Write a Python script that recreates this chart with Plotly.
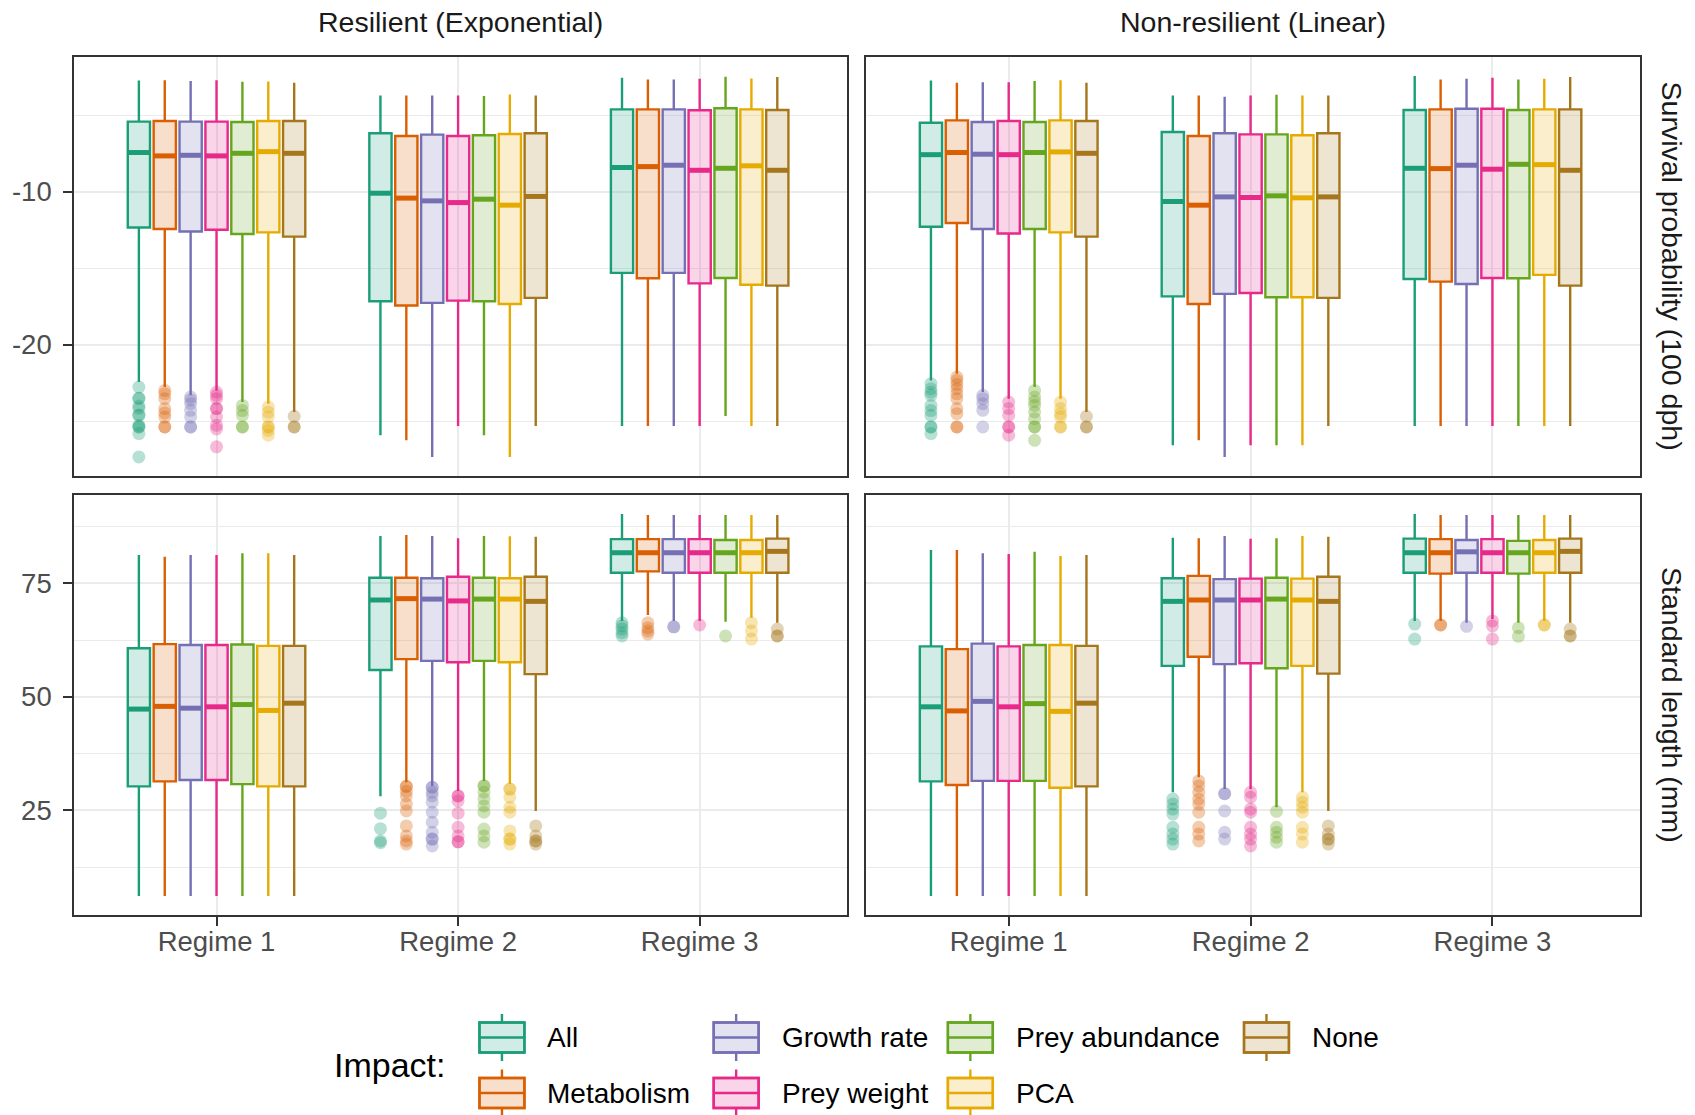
import plotly.graph_objects as go

# ---------------------------------------------------------------- data
REGIMES = ["Regime 1", "Regime 2", "Regime 3"]
IMPACTS = ["All", "Metabolism", "Growth rate", "Prey weight",
           "Prey abundance", "PCA", "None"]
COLORS = ["#1B9E77", "#D95F02", "#7570B3", "#E7298A",
          "#66A61E", "#E6AB02", "#A6761D"]
MODELS = ["Resilient (Exponential)", "Non-resilient (Linear)"]
METRICS = ["Survival probability (100 dph)", "Standard length (mm)"]

# Box summaries per impact, one entry per regime:
# [lower whisker, Q1, median, Q3, upper whisker]
SURV_EXP = {
    "All":            [[-22.43, -12.33, -7.43, -5.41, -2.72], [-25.91, -17.15, -10.09, -6.17, -3.70], [-25.30, -15.30, -8.41, -4.61, -2.54]],
    "Metabolism":     [[-22.76, -12.43, -7.65, -5.37, -2.70], [-26.24, -17.43, -10.41, -6.35, -3.70], [-25.30, -15.65, -8.35, -4.61, -2.65]],
    "Growth rate":    [[-23.30, -12.59, -7.61, -5.41, -2.76], [-27.33, -17.26, -10.59, -6.26, -3.70], [-25.30, -15.30, -8.26, -4.61, -2.65]],
    "Prey weight":    [[-22.98, -12.48, -7.65, -5.41, -2.70], [-25.30, -17.11, -10.70, -6.35, -3.70], [-25.30, -15.98, -8.59, -4.67, -2.61]],
    "Prey abundance": [[-23.74, -12.76, -7.48, -5.43, -2.80], [-25.91, -17.15, -10.48, -6.30, -3.74], [-24.65, -15.63, -8.46, -4.54, -2.48]],
    "PCA":            [[-23.85, -12.65, -7.37, -5.37, -2.78], [-27.33, -17.33, -10.87, -6.22, -3.63], [-25.30, -16.07, -8.30, -4.61, -2.59]],
    "None":           [[-24.39, -12.93, -7.48, -5.37, -2.87], [-25.30, -16.93, -10.30, -6.17, -3.70], [-25.30, -16.13, -8.59, -4.65, -2.50]],
}
SURV_LIN = {
    "All":            [[-22.33, -12.28, -7.57, -5.48, -2.72], [-26.57, -16.83, -10.63, -6.09, -3.70], [-25.30, -15.70, -8.46, -4.65, -2.43]],
    "Metabolism":     [[-21.89, -12.04, -7.43, -5.33, -2.87], [-26.24, -17.33, -10.87, -6.35, -3.70], [-25.30, -15.87, -8.48, -4.61, -2.65]],
    "Growth rate":    [[-23.09, -12.43, -7.54, -5.43, -2.83], [-27.33, -16.67, -10.33, -6.17, -3.78], [-25.30, -16.02, -8.26, -4.57, -2.61]],
    "Prey weight":    [[-23.52, -12.72, -7.57, -5.37, -2.83], [-26.57, -16.61, -10.37, -6.24, -3.70], [-25.30, -15.63, -8.52, -4.57, -2.54]],
    "Prey abundance": [[-22.76, -12.43, -7.43, -5.43, -2.76], [-26.57, -16.89, -10.26, -6.24, -3.65], [-25.30, -15.65, -8.20, -4.65, -2.65]],
    "PCA":            [[-23.52, -12.65, -7.39, -5.33, -2.70], [-26.57, -16.89, -10.39, -6.30, -3.70], [-25.30, -15.43, -8.22, -4.61, -2.61]],
    "None":           [[-24.39, -12.93, -7.48, -5.37, -2.87], [-25.30, -16.93, -10.33, -6.17, -3.70], [-25.30, -16.13, -8.59, -4.61, -2.50]],
}
LEN_EXP = {
    "All":            [[6.2, 30.3, 47.3, 60.7, 81.2], [28.1, 55.9, 71.3, 76.2, 85.4], [66.7, 77.3, 81.7, 84.7, 90.2]],
    "Metabolism":     [[6.2, 31.4, 47.9, 61.6, 80.8], [31.2, 58.3, 71.6, 76.2, 85.6], [68.0, 77.6, 81.7, 84.7, 90.0]],
    "Growth rate":    [[6.2, 31.7, 47.5, 61.4, 81.2], [30.4, 57.9, 71.5, 76.1, 85.4], [66.7, 77.3, 81.7, 84.7, 90.0]],
    "Prey weight":    [[6.2, 31.7, 47.8, 61.4, 81.2], [29.3, 57.6, 71.1, 76.4, 84.9], [66.7, 77.3, 81.7, 84.7, 90.0]],
    "Prey abundance": [[6.2, 30.8, 48.3, 61.5, 81.6], [31.5, 57.9, 71.5, 76.2, 85.4], [66.5, 77.3, 81.7, 84.5, 90.0]],
    "PCA":            [[6.2, 30.3, 47.0, 61.2, 81.6], [30.8, 57.6, 71.5, 76.1, 85.3], [67.4, 77.3, 81.7, 84.5, 90.0]],
    "None":           [[6.2, 30.3, 48.6, 61.2, 81.2], [24.9, 55.0, 71.0, 76.4, 85.2], [66.3, 77.3, 82.0, 84.8, 90.0]],
}
LEN_LIN = {
    "All":            [[6.2, 31.4, 47.8, 61.1, 82.3], [29.0, 56.8, 71.0, 76.1, 85.0], [66.7, 77.3, 81.7, 84.8, 90.2]],
    "Metabolism":     [[6.2, 30.6, 46.9, 60.5, 82.3], [32.3, 58.8, 71.3, 76.6, 84.9], [66.7, 77.1, 81.7, 84.7, 90.0]],
    "Growth rate":    [[6.2, 31.5, 49.0, 61.7, 81.6], [29.7, 57.2, 71.3, 75.9, 85.4], [66.3, 77.3, 81.9, 84.5, 90.0]],
    "Prey weight":    [[6.2, 31.5, 47.8, 61.1, 81.4], [29.7, 57.4, 71.3, 76.0, 84.8], [67.1, 77.3, 81.7, 84.7, 90.0]],
    "Prey abundance": [[6.2, 31.5, 48.5, 61.4, 81.9], [25.7, 56.3, 71.5, 76.2, 84.9], [66.3, 77.1, 81.7, 84.3, 90.0]],
    "PCA":            [[6.2, 30.0, 46.8, 61.4, 81.0], [29.0, 56.8, 71.3, 76.0, 85.4], [66.7, 77.3, 81.7, 84.5, 90.0]],
    "None":           [[6.2, 30.3, 48.6, 61.2, 81.2], [24.9, 55.1, 71.0, 76.4, 85.2], [66.3, 77.3, 82.0, 84.8, 90.0]],
}

# Outlying runs per impact, one list per regime
SURV_EXP_OUT = {
    "All":            [[-22.76, -23.5, -23.5, -24.0, -24.15, -24.6, -24.6, -25.26, -25.37, -25.37, -25.8, -27.33], [], []],
    "Metabolism":     [[-22.98, -23.2, -23.52, -24.17, -24.45, -24.72, -25.37, -25.37], [], []],
    "Growth rate":    [[-23.41, -23.6, -23.85, -24.28, -24.72, -25.37, -25.37], [], []],
    "Prey weight":    [[-23.09, -23.3, -23.52, -24.17, -24.17, -24.72, -25.26, -25.5, -26.67], [], []],
    "Prey abundance": [[-23.96, -24.3, -24.61, -25.37, -25.37], [], []],
    "PCA":            [[-24.07, -24.4, -24.72, -25.37, -25.37, -25.6, -25.91], [], []],
    "None":           [[-24.67, -25.37, -25.37], [], []],
}
SURV_LIN_OUT = {
    "All":            [[-22.54, -22.87, -23.1, -23.30, -23.96, -24.3, -24.61, -25.37, -25.37, -25.80], [], []],
    "Metabolism":     [[-22.11, -22.33, -22.6, -22.87, -23.2, -23.52, -24.17, -24.5, -25.37, -25.37], [], []],
    "Growth rate":    [[-23.30, -23.52, -23.85, -24.28, -25.37], [], []],
    "Prey weight":    [[-23.74, -24.17, -24.61, -25.37, -25.37, -25.91], [], []],
    "Prey abundance": [[-22.98, -23.41, -23.7, -23.96, -24.39, -24.83, -25.37, -25.37, -26.24], [], []],
    "PCA":            [[-23.74, -24.17, -24.5, -24.72, -25.37, -25.37], [], []],
    "None":           [[-24.67, -25.37, -25.37], [], []],
}
LEN_EXP_OUT = {
    "All":            [[], [24.4, 21.0, 18.3, 17.9], [66.3, 65.6, 64.9, 64.1, 63.4]],
    "Metabolism":     [[], [30.3, 30.3, 29.2, 28.2, 26.4, 24.9, 21.6, 19.4, 18.3, 17.6], [66.3, 65.2, 64.5, 63.8]],
    "Growth rate":    [[], [30.1, 30.1, 29.0, 28.2, 26.8, 24.6, 22.4, 20.2, 18.7, 18.7, 17.2], [65.4, 65.4]],
    "Prey weight":    [[], [28.2, 28.2, 27.1, 24.4, 21.3, 19.4, 18.1, 18.1], [65.8]],
    "Prey abundance": [[], [30.4, 30.4, 29.0, 27.5, 26.0, 24.6, 20.9, 19.4, 18.0], [63.4]],
    "PCA":            [[], [29.7, 29.7, 27.9, 25.7, 24.6, 20.5, 18.7, 18.7, 17.6], [66.3, 64.5, 62.7]],
    "None":           [[], [21.6, 19.4, 18.3, 18.3, 17.6], [64.9, 63.4, 63.4]],
}
LEN_LIN_OUT = {
    "All":            [[], [27.5, 26.4, 25.3, 24.2, 21.3, 19.8, 18.7, 17.6], [66.0, 62.7]],
    "Metabolism":     [[], [31.5, 30.4, 29.0, 27.5, 26.4, 24.6, 21.3, 19.8, 18.3], [65.8, 65.8]],
    "Growth rate":    [[], [28.7, 28.7, 24.9, 20.2, 18.7], [65.5]],
    "Prey weight":    [[], [29.0, 27.9, 25.3, 24.6, 21.3, 19.8, 18.7, 17.2], [66.7, 65.6, 62.7]],
    "Prey abundance": [[], [24.8, 21.3, 20.2, 19.1, 18.0], [65.2, 63.3]],
    "PCA":            [[], [27.9, 26.8, 25.7, 24.6, 21.3, 19.8, 18.0], [65.8, 65.8]],
    "None":           [[], [21.6, 19.8, 18.7, 18.7, 17.6], [64.9, 63.4, 63.4]],
}

SURV_TICKS = [-20, -10]
SURV_MINOR = [-25, -15, -5]
LEN_TICKS = [25, 50, 75]
LEN_MINOR = [12.5, 37.5, 62.5, 87.5]

# ---------------------------------------------------------------- styling
FONT = "Liberation Sans, Arial, Helvetica, sans-serif"
W, H = 1695, 1115
ML, MR, MT, MB = 72, 55, 57, 200
PW, PH = W - ML - MR, H - MT - MB

DODGE = 0.75
BOX_W = 0.092
LINE_W = 2.4
MEDIAN_W = 5
GRID = "#EBEBEB"
BORDER = "#333333"


def rgba(hex_color, a):
    h = hex_color.lstrip("#")
    r, g, b = int(h[0:2], 16), int(h[2:4], 16), int(h[4:6], 16)
    return f"rgba({r},{g},{b},{a})"


def paper_x(px):
    return (px - ML) / PW


def paper_y(py):
    return (MT + PH - py) / PH


def padded_range(*tables):
    vals = []
    for table in tables:
        for rows in table.values():
            for r in rows:
                vals.extend(r)
    lo, hi = min(vals), max(vals)
    pad = (hi - lo) * 0.05
    return [lo - pad, hi + pad]


surv_range = padded_range(SURV_EXP, SURV_LIN, SURV_EXP_OUT, SURV_LIN_OUT)
len_range = padded_range(LEN_EXP, LEN_LIN, LEN_EXP_OUT, LEN_LIN_OUT)

# (axis suffix, summaries, outliers)
FACETS = [
    ("", SURV_EXP, SURV_EXP_OUT),
    ("2", SURV_LIN, SURV_LIN_OUT),
    ("3", LEN_EXP, LEN_EXP_OUT),
    ("4", LEN_LIN, LEN_LIN_OUT),
]

fig = go.Figure()
n = len(IMPACTS)
for suffix, stats, outs in FACETS:
    xa, ya = "x" + suffix, "y" + suffix
    for k, (imp, col) in enumerate(zip(IMPACTS, COLORS)):
        offset = (k - (n - 1) / 2) * DODGE / n
        pos = [i + 1 + offset for i in range(len(REGIMES))]
        s = stats[imp]
        fig.add_trace(go.Box(
            x=pos, orientation="v",
            lowerfence=[r[0] for r in s], q1=[r[1] for r in s],
            median=[r[2] for r in s], q3=[r[3] for r in s],
            upperfence=[r[4] for r in s],
            width=BOX_W, whiskerwidth=0, boxpoints=False,
            fillcolor=rgba(col, 0.2), line=dict(color=col, width=LINE_W),
            xaxis=xa, yaxis=ya, showlegend=False, hoverinfo="skip",
        ))
        # thicker median bar
        mx, my = [], []
        for p, r in zip(pos, s):
            mx += [p - BOX_W / 2, p + BOX_W / 2, None]
            my += [r[2], r[2], None]
        fig.add_trace(go.Scatter(
            x=mx, y=my, mode="lines", line=dict(color=col, width=MEDIAN_W),
            xaxis=xa, yaxis=ya, showlegend=False, hoverinfo="skip",
        ))
        ox, oy = [], []
        for p, vals in zip(pos, outs[imp]):
            ox += [p] * len(vals)
            oy += vals
        if oy:
            fig.add_trace(go.Scatter(
                x=ox, y=oy, mode="markers",
                marker=dict(color=col, size=13, opacity=0.32, line=dict(width=0)),
                xaxis=xa, yaxis=ya, showlegend=False, hoverinfo="skip",
            ))

# ---------------------------------------------------------------- axes
x_left = [0, paper_x(846)]
x_right = [paper_x(865), 1]
y_top = [paper_y(476), 1]
y_bot = [0, paper_y(495)]

tick_font = dict(family=FONT, size=27.5, color="#4D4D4D")


def xaxis(domain, anchor, labels):
    return dict(
        domain=domain, anchor=anchor, range=[0.41, 3.61],
        tickmode="array", tickvals=[1, 2, 3], ticktext=REGIMES,
        showticklabels=labels, ticks="outside" if labels else "",
        ticklen=9, tickwidth=2, tickcolor=BORDER, tickfont=tick_font,
        showgrid=True, gridcolor=GRID, gridwidth=2, zeroline=False,
        showline=True, mirror=True, linecolor=BORDER, linewidth=1.6,
        ticklabelstandoff=-8,
    )


def yaxis(domain, anchor, rng, ticks, minor, labels):
    return dict(
        domain=domain, anchor=anchor, range=rng,
        tickmode="array", tickvals=ticks, ticktext=[str(t) for t in ticks],
        showticklabels=labels, ticks="outside" if labels else "",
        ticklen=9, tickwidth=2, tickcolor=BORDER, tickfont=tick_font,
        showgrid=True, gridcolor=GRID, gridwidth=2, zeroline=False,
        minor=dict(tickmode="array", tickvals=minor, showgrid=True,
                   gridcolor=GRID, gridwidth=1.1, ticks=""),
        showline=True, mirror=True, linecolor=BORDER, linewidth=1.6,
        ticklabelstandoff=6,
    )


fig.update_layout(
    xaxis=xaxis(x_left, "y", False),
    xaxis2=xaxis(x_right, "y2", False),
    xaxis3=xaxis(x_left, "y3", True),
    xaxis4=xaxis(x_right, "y4", True),
    yaxis=yaxis(y_top, "x", surv_range, SURV_TICKS, SURV_MINOR, True),
    yaxis2=yaxis(y_top, "x2", surv_range, SURV_TICKS, SURV_MINOR, False),
    yaxis3=yaxis(y_bot, "x3", len_range, LEN_TICKS, LEN_MINOR, True),
    yaxis4=yaxis(y_bot, "x4", len_range, LEN_TICKS, LEN_MINOR, False),
)

# ---------------------------------------------------------------- strips
annotations = []
strip_font = dict(family=FONT, size=28.5, color="#1A1A1A")
for dom, label in zip([x_left, x_right], MODELS):
    annotations.append(dict(
        text=label, x=(dom[0] + dom[1]) / 2, y=paper_y(22),
        xref="paper", yref="paper", xanchor="center", yanchor="middle",
        showarrow=False, font=strip_font,
    ))
for dom, label in zip([y_top, y_bot], METRICS):
    annotations.append(dict(
        text=label, x=paper_x(1672), y=(dom[0] + dom[1]) / 2,
        xref="paper", yref="paper", xanchor="center", yanchor="middle",
        textangle=90, showarrow=False, font=strip_font,
    ))

# ---------------------------------------------------------------- legend
shapes = []
annotations.append(dict(
    text="Impact:", x=paper_x(330), y=paper_y(1065), xref="paper", yref="paper",
    xanchor="left", yanchor="middle", showarrow=False,
    font=dict(family=FONT, size=34, color="black"),
))
col_left = [478, 712.5, 947, 1243.5]
row_center = [1037.5, 1093]
legend_slots = [(0, 0), (1, 0), (0, 1), (1, 1), (0, 2), (1, 2), (0, 3)]
ICON_W, ICON_H, WHISK = 45, 30, 23.5
for (row, c), imp, col in zip(legend_slots, IMPACTS, COLORS):
    x0, cy = col_left[c], row_center[row]
    xm = x0 + ICON_W / 2
    ref = dict(xref="paper", yref="paper")
    shapes.append(dict(type="line", x0=paper_x(xm), x1=paper_x(xm),
                       y0=paper_y(cy - WHISK), y1=paper_y(cy + WHISK),
                       line=dict(color=col, width=LINE_W), **ref))
    shapes.append(dict(type="rect", x0=paper_x(x0), x1=paper_x(x0 + ICON_W),
                       y0=paper_y(cy - ICON_H / 2), y1=paper_y(cy + ICON_H / 2),
                       line=dict(color=col, width=LINE_W),
                       fillcolor="white", layer="above", **ref))
    shapes.append(dict(type="rect", x0=paper_x(x0), x1=paper_x(x0 + ICON_W),
                       y0=paper_y(cy - ICON_H / 2), y1=paper_y(cy + ICON_H / 2),
                       line=dict(color=col, width=LINE_W),
                       fillcolor=rgba(col, 0.2), layer="above", **ref))
    shapes.append(dict(type="line", x0=paper_x(x0), x1=paper_x(x0 + ICON_W),
                       y0=paper_y(cy), y1=paper_y(cy),
                       line=dict(color=col, width=LINE_W), **ref))
    annotations.append(dict(
        text=imp, x=paper_x(x0 + ICON_W + 21), y=paper_y(cy),
        xref="paper", yref="paper", xanchor="left", yanchor="middle",
        showarrow=False, font=dict(family=FONT, size=28, color="black"),
    ))

fig.update_layout(
    width=W, height=H,
    margin=dict(l=ML, r=MR, t=MT, b=MB, pad=0),
    paper_bgcolor="white", plot_bgcolor="white",
    showlegend=False,
    annotations=annotations, shapes=shapes,
    font=dict(family=FONT),
)

fig.write_html("out.html")
